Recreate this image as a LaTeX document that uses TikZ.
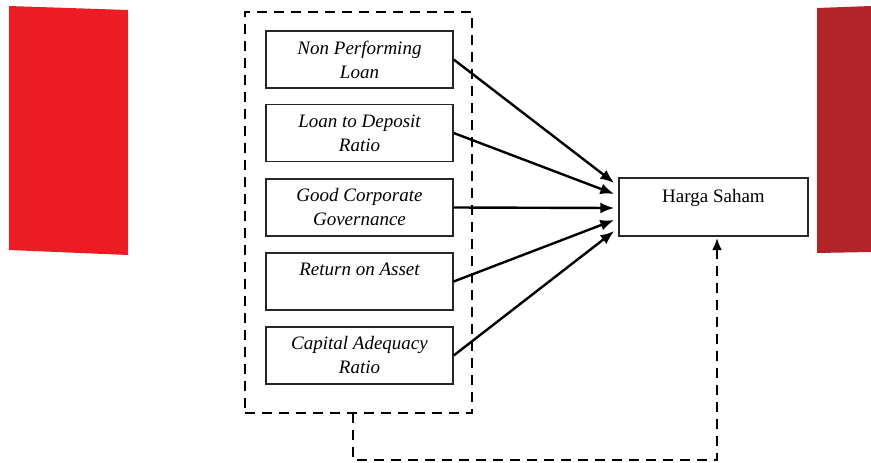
\documentclass[tikz,border=0pt]{standalone}
\usepackage{fontspec}
\setmainfont{Liberation Serif}
\usetikzlibrary{arrows.meta,calc}
\definecolor{redL}{HTML}{ED1C24}
\definecolor{redR}{HTML}{B2232A}
\begin{document}
\begin{tikzpicture}[x=1pt,y=-1pt,
  varbox/.style={draw=black!85,line width=1.4pt,minimum width=187pt,minimum height=57pt,inner sep=2pt,align=center,font=\fontsize{19}{24}\selectfont\itshape},
  depbox/.style={draw=black!85,line width=1.4pt,minimum width=189pt,minimum height=58pt,align=center,font=\fontsize{19}{24}\selectfont},
  grpbox/.style={draw,line width=2.8pt,dash pattern=on 10pt off 7pt,minimum width=227pt,minimum height=401pt,inner sep=0pt},
  arr/.style={line width=2.4pt,-{Latex[length=14pt,width=11pt]}},
  fback/.style={line width=2.8pt,dash pattern=on 10pt off 7pt,-{Latex[length=12pt,width=10pt]}}]
\useasboundingbox (0,0) rectangle (871,463);
% red side panels
\fill[redL] (9,6) -- (128,10) -- (128,255) -- (9,250) -- cycle;
\fill[redR] (817,8) -- (871,6) -- (871,252) -- (817,253) -- cycle;
% group
\node[grpbox] (grp) at (358.5,212.5) {};
% variable boxes
\node[varbox] (v1) at (359.5,59.5) {Non Performing\\Loan};
\node[varbox] (v2) at (359.5,133) {Loan to Deposit\\Ratio};
\node[varbox] (v3) at (359.5,207.5) {Good Corporate\\Governance};
\node[varbox] (v4) at (359.5,281.5) {Return on Asset\\\mbox{}};
\node[varbox] (v5) at (359.5,355.5) {Capital Adequacy\\Ratio};
% dependent
\node[depbox,text depth=22pt] (h) at (713.5,207) {Harga Saham};
% arrow ends
\coordinate (t1) at ($(h.west)+(-4,-24)$);
\coordinate (t2) at ($(h.west)+(-4,-13)$);
\coordinate (t3) at ($(h.west)+(-4,1)$);
\coordinate (t4) at ($(h.west)+(-4,13)$);
\coordinate (t5) at ($(h.west)+(-4,24)$);
\draw[arr] (v1.east) -- (t1);
\draw[arr] (v2.east) -- (t2);
\draw[arr] (v3.east) -- (t3);
\draw[arr] (v4.east) -- (t4);
\draw[arr] (v5.east) -- (t5);
% feedback
\coordinate (fs) at (353,413);
\coordinate (fb) at (353,460);
\coordinate (fe) at (717,238);
\draw[fback] (fs) -- (fb) -| (fe);
\end{tikzpicture}
\end{document}
